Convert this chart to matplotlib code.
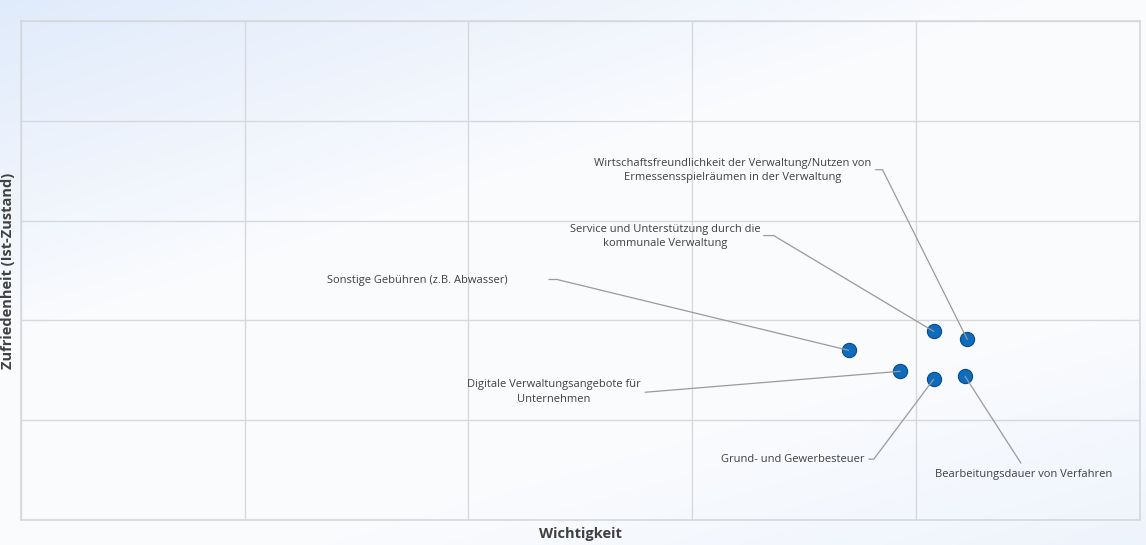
import numpy as np
import matplotlib.pyplot as plt

# Wichtigkeit (x) und Zufriedenheit (y), Skala 0..5
themen = [
    "Sonstige Gebühren (z.B. Abwasser)",
    "Service und Unterstützung durch die\nkommunale Verwaltung",
    "Wirtschaftsfreundlichkeit der Verwaltung/Nutzen von\nErmessensspielräumen in der Verwaltung",
    "Digitale Verwaltungsangebote für\nUnternehmen",
    "Grund- und Gewerbesteuer",
    "Bearbeitungsdauer von Verfahren",
]
wichtigkeit = [3.70, 4.08, 4.23, 3.93, 4.08, 4.22]
zufriedenheit = [1.70, 1.89, 1.81, 1.49, 1.41, 1.44]

# Position der Beschriftung, Ausrichtung, Startpunkt der Linie, Länge des waagrechten Stücks
text_pos = [(1.37, 2.40), (2.88, 2.84), (3.18, 3.50), (2.38, 1.28), (3.77, 0.61), (4.48, 0.46)]
text_ha = ["left", "center", "center", "center", "right", "center"]
linie_start = [(2.36, 2.41), (3.32, 2.85), (3.82, 3.51), (2.79, 1.28), (3.79, 0.61), (4.47, 0.57)]
arm = [8, 10, 7, 0, 5, 0]

textfarbe = "#404040"
gitterfarbe = "#d6d8dc"

fig = plt.figure(figsize=(11.46, 5.45), dpi=100)

# heller Verlauf im Hintergrund
bg = fig.add_axes([0, 0, 1, 1], zorder=-10)
yy, xx = np.mgrid[0:1:200j, 0:1:400j]
w_tl = np.clip(1 - (xx * 1.1 + yy * 1.6), 0, 1)
w_br = np.clip((xx - 0.6) * 1.2 + (yy - 0.8) * 2.0, 0, 1) * 0.5
blau = np.array([0.878, 0.922, 0.984])
weiss = np.array([0.98, 0.985, 0.996])
w = np.clip(w_tl + w_br, 0, 1)[..., None]
img = weiss * (1 - w) + blau * w
bg.imshow(img, aspect="auto", extent=[0, 1, 0, 1], origin="upper")
bg.axis("off")

ax = fig.add_axes([21 / 1146, 25 / 545, 1118.5 / 1146, 499 / 545])
ax.patch.set_alpha(0)
ax.set_xlim(0, 5)
ax.set_ylim(0, 5)
ax.set_xticks(np.arange(0, 6))
ax.set_yticks(np.arange(0, 6))
ax.tick_params(length=0, labelbottom=False, labelleft=False)
ax.grid(True, color=gitterfarbe, linewidth=1)
for s in ax.spines.values():
    s.set_color(gitterfarbe)
    s.set_linewidth(1.2)

ax.scatter(wichtigkeit, zufriedenheit, s=105, color="#0f6cbd",
           edgecolors="#0c4a86", linewidths=0.8, zorder=3)

for i in range(len(themen)):
    tx, ty = text_pos[i]
    ax.text(tx, ty, themen[i], ha=text_ha[i], va="center", fontsize=8,
            color=textfarbe, family="Open Sans", linespacing=1.45)
    if arm[i] > 0:
        cs = "arc,angleA=0,armA=%d,angleB=0,armB=0,rad=0" % arm[i]
    else:
        cs = "arc3"
    ax.annotate("", xy=(wichtigkeit[i], zufriedenheit[i]), xytext=linie_start[i],
                arrowprops=dict(arrowstyle="-", color="#9a9a9a", lw=0.9,
                                connectionstyle=cs, shrinkA=0, shrinkB=0),
                zorder=4)

ax.set_xlabel("Wichtigkeit", fontsize=10.5, fontweight="bold", color=textfarbe,
              family="Open Sans", labelpad=5)
ax.set_ylabel("Zufriedenheit (Ist-Zustand)", fontsize=10.5, fontweight="bold",
              color=textfarbe, family="Open Sans", labelpad=4)

fig.savefig("out.png", dpi=100)
